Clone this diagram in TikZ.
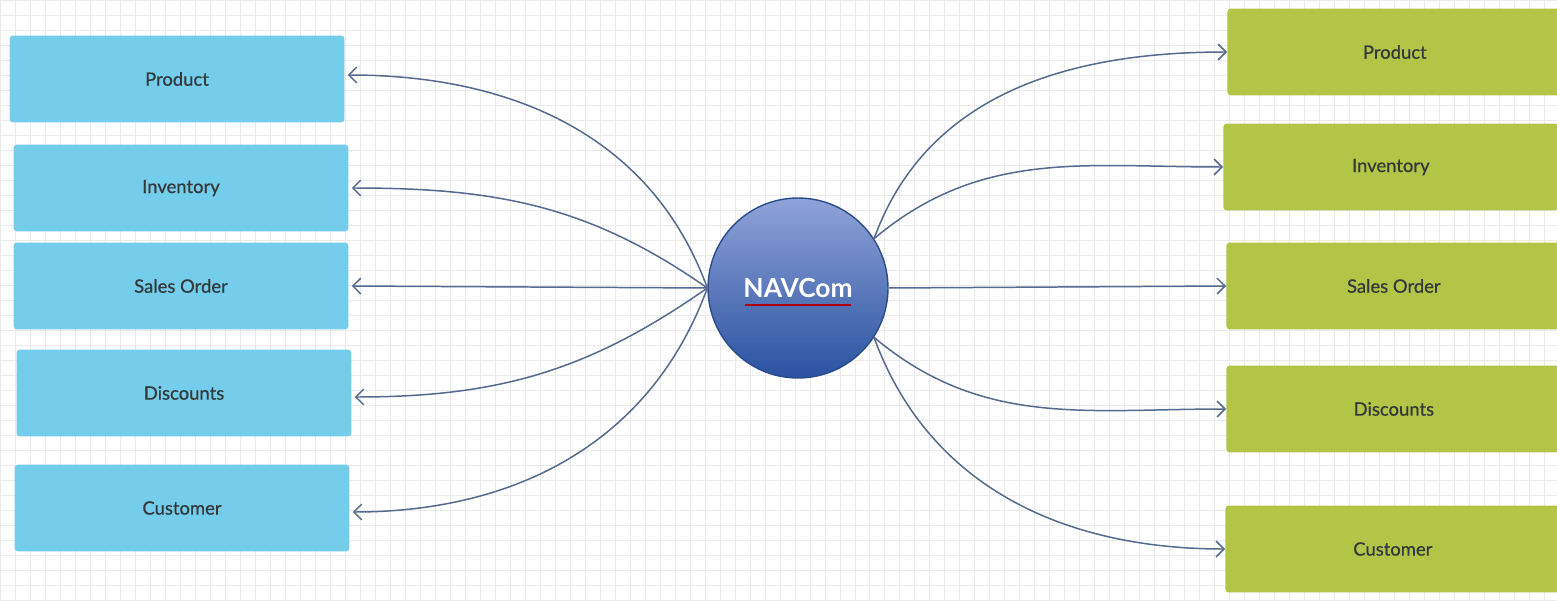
\documentclass[tikz,border=0pt]{standalone}
\usepackage{fontspec}
\setmainfont{Lato}
\newfontfamily\boxfont[FakeBold=0.6]{Lato}
\usetikzlibrary{arrows.meta}
\usetikzlibrary{calc}

\definecolor{leftblue}{HTML}{74CDEB}
\definecolor{rightgreen}{HTML}{B2C546}
\definecolor{linkblue}{HTML}{556A8E}
\definecolor{balltop}{HTML}{8FA3D8}
\definecolor{ballbottom}{HTML}{2A52A0}
\definecolor{ballrim}{HTML}{2B4C8C}
\definecolor{labelgray}{HTML}{33383A}
\definecolor{gridgray}{HTML}{EBEBEB}

\tikzset{
  box/.style={rounded corners=2pt, minimum width=6.7cm, minimum height=1.74cm,
    text=labelgray, font=\boxfont\fontsize{10.5}{12}\selectfont},
  leftbox/.style={box, fill=leftblue},
  rightbox/.style={box, fill=rightgreen, anchor=west},
  link/.style={draw=linkblue, line width=0.85pt,
    -{Straight Barb[length=4.5pt,width=9pt]}},
}

\begin{document}
\begin{tikzpicture}[x=0.02cm,y=-0.02cm]
\clip (0,0) rectangle (1557,601);
\fill[white] (0,0) rectangle (1557,601);
\draw[gridgray, line width=0.4pt, step=0.3cm] (0,0) grid (1557,601);

% hub
\node[circle, minimum size=3.6cm, draw=ballrim, line width=0.8pt,
  top color=balltop, bottom color=ballbottom, text=white,
  font=\fontsize{15}{18}\selectfont\bfseries] (N) at (798,288) {NAVCom};
\draw[red!70!black, line width=0.6pt] ($(N)+(-53,17)$) -- ($(N)+(53,17)$);

% left side
\node[leftbox] (L1) at (177,79) {Product};
\node[leftbox] (L2) at (181,188) {Inventory};
\node[leftbox] (L3) at (181,286) {Sales Order};
\node[leftbox] (L4) at (184,393) {Discounts};
\node[leftbox] (L5) at (182,508) {Customer};

% right side
\node[rightbox] (R1) at (1227,52) {Product};
\node[rightbox] (R2) at (1223,167) {Inventory};
\node[rightbox] (R3) at (1226,286) {Sales Order};
\node[rightbox] (R4) at (1226,409) {Discounts};
\node[rightbox] (R5) at (1225,549) {Customer};

\draw[link] (N.west) to[out=110,in=0] ($(L1.east)+(3,-4)$);
\draw[link] (N.west) to[out=145,in=0] ($(L2.east)+(3,0)$);
\draw[link] (N.west) -- ($(L3.east)+(3,0)$);
\draw[link] (N.west) to[out=215,in=0] ($(L4.east)+(3,4)$);
\draw[link] (N.west) to[out=250,in=0] ($(L5.east)+(3,4)$);

\draw[link] (N.33) to[out=70,in=180] (R1.west);
\draw[link] (N.33) to[out=40,in=180] (R2.west);
\draw[link] (N.east) -- (R3.west);
\draw[link] (N.-33) to[out=-40,in=180] (R4.west);
\draw[link] (N.-33) to[out=-70,in=180] (R5.west);
\end{tikzpicture}
\end{document}
